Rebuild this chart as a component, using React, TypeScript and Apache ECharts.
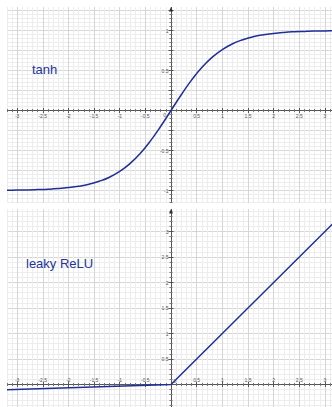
import React, { useEffect, useRef } from 'react';
import * as echarts from 'echarts';

// ---- data ----
const tanhX = [-3.4, -3.2, -3.0, -2.8, -2.6, -2.4, -2.2, -2.0, -1.8, -1.6, -1.4, -1.2, -1.0, -0.8, -0.6, -0.4, -0.2, 0,
  0.2, 0.4, 0.6, 0.8, 1.0, 1.2, 1.4, 1.6, 1.8, 2.0, 2.2, 2.4, 2.6, 2.8, 3.0, 3.2, 3.4];
const tanhY = [-0.998, -0.997, -0.995, -0.993, -0.989, -0.984, -0.976, -0.964, -0.947, -0.922, -0.885, -0.834, -0.762, -0.664, -0.537, -0.380, -0.197, 0,
  0.197, 0.380, 0.537, 0.664, 0.762, 0.834, 0.885, 0.922, 0.947, 0.964, 0.976, 0.984, 0.989, 0.993, 0.995, 0.997, 0.998];
const leakyX = [-3.4, 0, 3.4];
const leakyY = [-0.107, 0, 3.4];
const topTitle = 'tanh';
const bottomTitle = 'leaky ReLU';
const originLabel = '0';

const LINE = '#1f2f94';
const TEXT = '#24359b';
const AXIS = '#555555';
const MAJOR = '#d6d6d6';
const MINOR = '#ededed';
const FONT = '"Liberation Sans", Arial, Helvetica, sans-serif';

const round = (v: number) => Math.round(v * 100) / 100;
const xFmt = (v: number) => {
  const r = round(v);
  return r === 0 || Math.abs(r) > 3.2 ? '' : String(r);
};
const topYFmt = (v: number) => {
  const r = round(v);
  if (r === 0 || Math.abs(r) > 1.2) return '';
  if (Math.abs(r * 2 - Math.round(r * 2)) > 1e-6) return '';
  return String(r);
};
const bottomYFmt = (v: number) => {
  const r = round(v);
  if (r <= 0 || r > 3.2) return '';
  return String(r);
};

const X0 = 164; // local pixel of x = 0
const XPX = 51.3; // pixels per x unit
const XMIN = -3.5;
const XMAX = 3.5;

// ticks/lines axes: grid 0 (main, with split lines) and grid 1 (mirror side ticks)
function lineAxes(dim: 'x' | 'y', min: number, max: number, interval: number) {
  const positions = dim === 'x' ? ['bottom', 'top'] : ['left', 'right'];
  return positions.map((pos, i) => ({
    type: 'value',
    gridIndex: i,
    min,
    max,
    interval,
    position: pos,
    axisLine: { show: true, onZero: true, lineStyle: { color: AXIS, width: 1 } },
    axisTick: { show: true, length: 2.5, lineStyle: { color: AXIS, width: 1 } },
    minorTick: { show: true, splitNumber: 5, length: 1.5, lineStyle: { color: '#777', width: 1 } },
    axisLabel: { show: false },
    splitLine: { show: i === 0, lineStyle: { color: MAJOR, width: 1 } },
    minorSplitLine: { show: i === 0, lineStyle: { color: MINOR, width: 1 } },
  }));
}

// a label-only axis that sits on the edge of its own grid (which is the zero line)
function labelAxis(gridIndex: number, pos: string, min: number, max: number, interval: number, fmt: (v: number) => string) {
  return {
    type: 'value',
    gridIndex,
    min,
    max,
    interval,
    position: pos,
    axisLine: { show: false, onZero: false },
    axisTick: { show: false },
    minorTick: { show: false },
    splitLine: { show: false },
    minorSplitLine: { show: false },
    axisLabel: {
      show: true,
      fontSize: 5,
      color: AXIS,
      margin: 2.5,
      fontFamily: FONT,
      formatter: fmt,
      showMinLabel: true,
      showMaxLabel: true,
    },
  };
}

function hiddenAxis(gridIndex: number, min: number, max: number) {
  return { type: 'value', gridIndex, min, max, show: false, axisLine: { onZero: false } };
}

function arrow(x: number) {
  return {
    type: 'polygon',
    z: 100,
    shape: { points: [[x - 2, 4.5], [x, 0], [x + 2, 4.5]] },
    style: { fill: '#333' },
  };
}

function title(text: string, x: number, y: number) {
  return {
    type: 'text',
    z: 100,
    x,
    y,
    style: { text, fill: TEXT, fontSize: 13, fontFamily: FONT, align: 'left', verticalAlign: 'middle' },
  };
}

function origin(x: number, y: number) {
  return {
    type: 'text',
    z: 100,
    x,
    y,
    style: { text: originLabel, fill: AXIS, fontSize: 5, fontFamily: FONT, align: 'center', verticalAlign: 'middle' },
  };
}

function makeOption(cfg: {
  top: number; height: number; ymin: number; ymax: number; yInterval: number;
  y0: number; xLabelsAbove: boolean; yFmt: (v: number) => string;
  series: any[]; graphic: any[];
}) {
  const left = X0 + XMIN * XPX;
  const width = (XMAX - XMIN) * XPX;
  const base = { left, top: cfg.top, width, height: cfg.height, containLabel: false, outerBoundsMode: 'none' };
  const xLabelGrid = cfg.xLabelsAbove
    ? { ...base, top: cfg.y0, height: cfg.top + cfg.height - cfg.y0 }
    : { ...base, height: cfg.y0 - cfg.top };
  const yLabelGrid = { ...base, left: X0, width: XMAX * XPX };
  return {
    animation: false,
    grid: [base, { ...base }, xLabelGrid, yLabelGrid],
    xAxis: [
      ...lineAxes('x', XMIN, XMAX, 0.5),
      labelAxis(2, cfg.xLabelsAbove ? 'top' : 'bottom', XMIN, XMAX, 0.5, xFmt),
      hiddenAxis(3, 0, XMAX),
    ],
    yAxis: [
      ...lineAxes('y', cfg.ymin, cfg.ymax, cfg.yInterval),
      cfg.xLabelsAbove ? hiddenAxis(2, cfg.ymin, 0) : hiddenAxis(2, 0, cfg.ymax),
      labelAxis(3, 'left', cfg.ymin, cfg.ymax, cfg.yInterval, cfg.yFmt),
    ],
    series: cfg.series,
    graphic: cfg.graphic,
  };
}

const topOption = makeOption({
  top: -16.5,
  height: 220,
  ymin: -1.25,
  ymax: 1.5,
  yInterval: 0.25,
  y0: 103.5,
  xLabelsAbove: false,
  yFmt: topYFmt,
  series: [
    {
      type: 'line',
      xAxisIndex: 0,
      yAxisIndex: 0,
      data: tanhX.map((x, i) => [x, tanhY[i]]),
      smooth: true,
      showSymbol: false,
      lineStyle: { color: LINE, width: 1.5 },
      z: 10,
    },
  ],
  graphic: [title(topTitle, 25, 62), origin(157.7, 108.3), arrow(X0)],
});

const bottomOption = makeOption({
  top: -3,
  height: 204,
  ymin: -0.5,
  ymax: 3.5,
  yInterval: 0.5,
  y0: 175.5,
  xLabelsAbove: true,
  yFmt: bottomYFmt,
  series: [
    {
      type: 'line',
      xAxisIndex: 0,
      yAxisIndex: 0,
      data: leakyX.map((x, i) => [x, leakyY[i]]),
      showSymbol: false,
      lineStyle: { color: LINE, width: 1.5 },
      z: 10,
    },
  ],
  graphic: [title(bottomTitle, 19, 54.5), origin(168, 171.7), arrow(X0)],
});

function Panel({ option, left, top, width, height }: any) {
  const ref = useRef<HTMLDivElement>(null);
  useEffect(() => {
    const chart = echarts.init(ref.current!, null, { renderer: 'svg' });
    chart.setOption(option as any);
    return () => chart.dispose();
  }, [option]);
  return (
    <div
      ref={ref}
      style={{ position: 'absolute', left, top, width, height, overflow: 'hidden' }}
    />
  );
}

export default function App() {
  return (
    <div style={{ position: 'fixed', left: 0, top: 0, width: 332, height: 407, background: '#fff', overflow: 'hidden' }}>
      <Panel option={topOption} left={7} top={7} width={325} height={196} />
      <Panel option={bottomOption} left={7} top={209} width={325} height={198} />
    </div>
  );
}
